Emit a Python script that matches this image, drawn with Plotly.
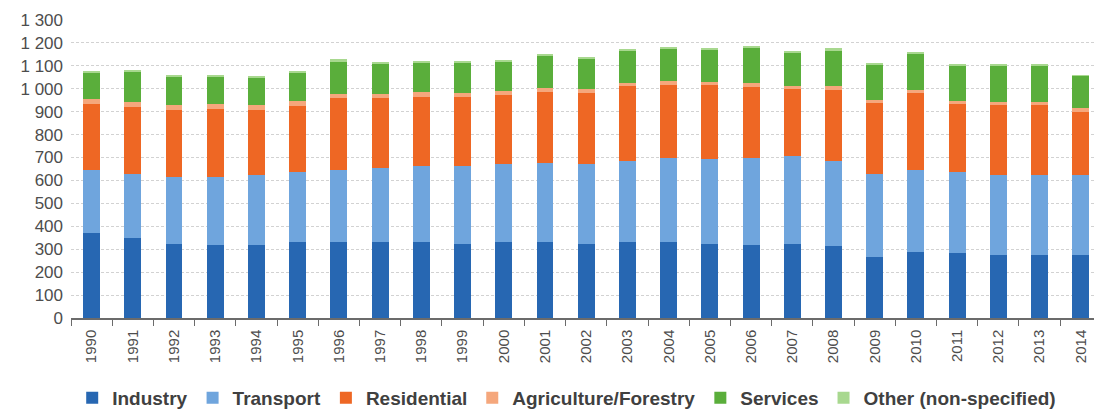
import plotly.graph_objects as go

years = [str(y) for y in range(1990, 2015)]

industry = [370, 349, 324, 320, 320, 331, 331, 331, 331, 324, 331, 331, 324,
            331, 331, 324, 317, 324, 312, 264, 288, 283, 276, 276, 276]
transport = [276, 280, 293, 297, 302, 305, 315, 323, 330, 341, 341, 347, 348,
             356, 366, 369, 380, 383, 371, 365, 358, 356, 346, 346, 346]
residential = [288, 293, 291, 295, 286, 289, 313, 305, 305, 298, 301, 310, 308,
               325, 320, 324, 312, 291, 312, 308, 334, 295, 308, 308, 278]
agriculture = [20, 22, 20, 20, 20, 21, 19, 19, 18, 18, 17, 17, 17,
               15, 15, 14, 15, 15, 15, 14, 14, 14, 14, 14, 14]
services = [114, 128, 125, 121, 121, 124, 143, 133, 131, 133, 131, 140, 136,
            139, 145, 141, 157, 145, 159, 156, 158, 152, 156, 156, 142]
other = [10, 10, 6, 6, 6, 8, 8, 5, 6, 6, 6, 7, 7,
         6, 7, 7, 7, 5, 8, 4, 6, 4, 4, 4, 4]

series = [
    ("Industry", industry, "#2767b2"),
    ("Transport", transport, "#6fa5dd"),
    ("Residential", residential, "#ee6724"),
    ("Agriculture/Forestry", agriculture, "#f5a77c"),
    ("Services", services, "#5aae3b"),
    ("Other (non-specified)", other, "#a8d88f"),
]

fig = go.Figure()
for name, vals, col in series:
    fig.add_trace(go.Bar(x=years, y=vals, name=name, marker_color=col,
                         marker_line_width=0, width=0.41))

fig.update_layout(
    barmode="stack",
    width=1094, height=409,
    margin=dict(l=71, r=0, t=20, b=91, autoexpand=False),
    plot_bgcolor="white", paper_bgcolor="white",
    separators=". ",
    font=dict(family="Arial, Liberation Sans, sans-serif", color="#595959"),
    legend=dict(orientation="h", xref="container", yref="container",
                x=0.066, xanchor="left", y=0.027, yanchor="middle",
                font=dict(size=19, color="#404040", weight="bold"),
                itemwidth=30, traceorder="normal", tracegroupgap=0),
    showlegend=True,
)
fig.update_xaxes(
    type="category", range=[-0.5, 24.32], tickangle=-90,
    tickfont=dict(size=15, color="#4d4d4d"),
    showline=True, linecolor="#6b6b6b", linewidth=1.5,
    ticks="outside", ticklen=6, tickcolor="#6b6b6b", tickson="boundaries",
    showgrid=False, automargin=False, ticklabelstandoff=4,
)
fig.update_yaxes(
    range=[0, 1300], dtick=100, separatethousands=True,
    tickfont=dict(size=17, color="#4d4d4d"),
    showgrid=True, gridcolor="#d2d2d2", griddash="3px,2px", gridwidth=1,
    zeroline=False, showline=False, ticks="", ticklabelstandoff=7,
    automargin=False,
)

fig.write_html("out.html")
